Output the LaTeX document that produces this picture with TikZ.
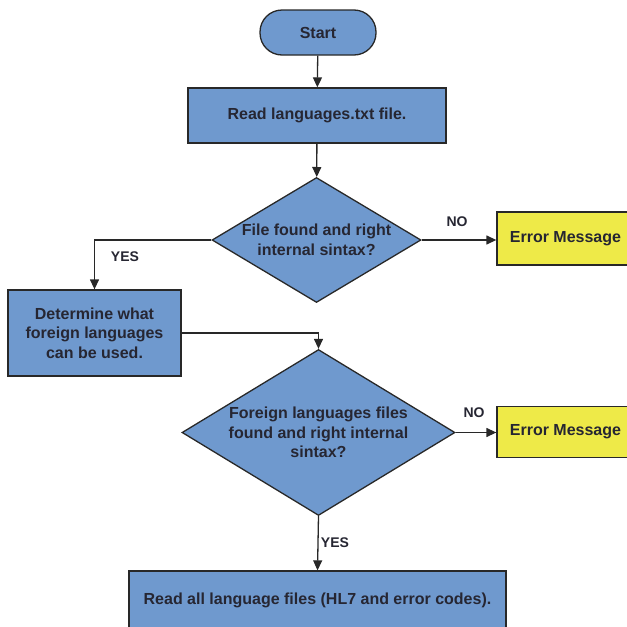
\documentclass[tikz,border=0pt]{standalone}
\usepackage{fontspec}
\setmainfont{Liberation Sans}
\usetikzlibrary{shapes.geometric,arrows.meta}
\definecolor{boxblue}{RGB}{111,153,206}
\definecolor{boxyellow}{RGB}{238,234,72}
\definecolor{edgegray}{RGB}{40,40,40}
\definecolor{txt}{RGB}{38,38,50}
\begin{document}
\begin{tikzpicture}[x=1pt,y=-1pt,
  font=\fontsize{16}{19.5}\selectfont\bfseries, text=txt,
  shp/.style={draw=edgegray, line width=1.3pt, align=center, inner sep=0pt, text=txt},
  proc/.style={shp, rectangle, fill=boxblue},
  term/.style={shp, rectangle, rounded corners=22pt, fill=boxblue},
  err/.style={shp, rectangle, fill=boxyellow},
  dec/.style={shp, diamond, fill=boxblue},
  arr/.style={draw=edgegray, line width=1.3pt, -{Triangle[length=10pt,width=9pt]}},
  lbl/.style={inner sep=0pt, text=txt, font=\fontsize{14}{17}\selectfont\bfseries}]
\useasboundingbox (0,0) rectangle (627,627);
\clip (0,0) rectangle (627,627);

\node[term, minimum width=116pt, minimum height=45pt] (start) at (318,32.5) {Start};
\node[proc, minimum width=258pt, minimum height=55pt] (read) at (317,115.5) {Read languages.txt file.};
\node[dec, minimum width=209pt, minimum height=125pt,
  label={[inner sep=0pt, text=txt, align=center]center:File found and right\\internal sintax?}] (d1) at (316.5,240) {};
\node[err, minimum width=137pt, minimum height=53pt] (err1) at (565.5,238.5) {Error Message};
\node[proc, minimum width=173pt, minimum height=86pt] (det) at (94.5,333) {Determine what\\foreign languages\\can be used.};
\node[dec, minimum width=273pt, minimum height=166pt,
  label={[inner sep=0pt, text=txt, align=center]center:Foreign languages files\\found and right internal\\sintax?}] (d2) at (318.5,432.5) {};
\node[err, minimum width=137pt, minimum height=51pt] (err2) at (565.5,432) {Error Message};
\node[proc, minimum width=377pt, minimum height=58pt] (final) at (317.5,600) {Read all language files (HL7 and error codes).};

\draw[arr] (start) -- (read);
\draw[arr] (read) -- (d1);
\draw[arr] (d1.east) -- (d1.east -| err1.west);
\node[lbl] (no1) at (457,222) {NO};
\draw[arr] (d1.west) -| (det.north);
\node[lbl] (yes1) at (125,257) {YES};
\draw[arr] (det.east) -| (d2.north);
\draw[arr] (d2.east) -- (d2.east -| err2.west);
\node[lbl] (no2) at (474,413) {NO};
\draw[arr] (d2.south) -- (final.north);
\node[lbl] (yes2) at (335,543) {YES};
\end{tikzpicture}
\end{document}
